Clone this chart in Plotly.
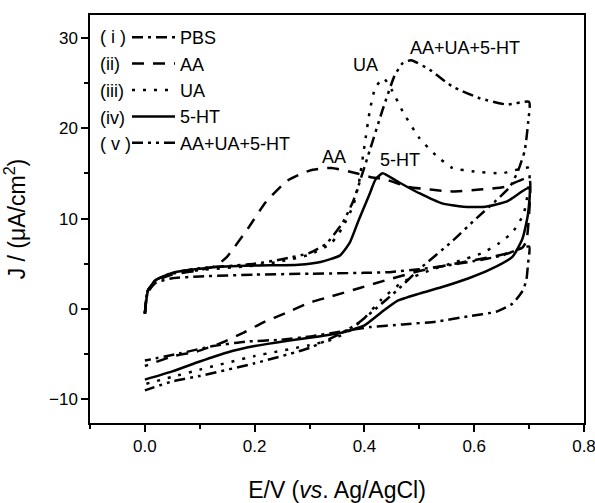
import plotly.graph_objects as go

# ---- data ----
pbs_x = [0.0, 0.005, 0.02, 0.05, 0.1, 0.2, 0.3, 0.4, 0.45, 0.5, 0.55, 0.6, 0.65, 0.7,
         0.698, 0.695, 0.688, 0.67, 0.64, 0.59, 0.53, 0.47, 0.41, 0.355, 0.306, 0.246, 0.185, 0.124, 0.064, 0.0]
pbs_y = [-0.5, 1.8, 2.9, 3.4, 3.6, 3.8, 3.9, 4.0, 4.1, 4.4, 4.8, 5.3, 5.9, 6.9,
         5.0, 3.2, 2.0, 0.6, -0.3, -0.8, -1.4, -1.7, -2.0, -2.5, -3.0, -3.4, -3.6, -4.1, -4.9, -5.7]

aa_x = [0.0, 0.005, 0.02, 0.05, 0.1, 0.13, 0.15, 0.19, 0.22, 0.26, 0.3, 0.34, 0.385, 0.41, 0.44, 0.48, 0.52,
        0.56, 0.61, 0.655, 0.7,
        0.7, 0.695, 0.688, 0.65, 0.6, 0.555, 0.5, 0.44, 0.39, 0.34, 0.3, 0.258, 0.215, 0.18, 0.137, 0.094, 0.052, 0.0]
aa_y = [-0.5, 2.0, 3.1, 3.8, 4.3, 4.8, 5.8, 9.1, 11.8, 14.2, 15.3, 15.6, 15.0, 14.6, 14.3, 13.5, 13.2,
        13.0, 13.2, 13.5, 14.5,
        10.5, 7.5, 6.8, 6.0, 5.4, 4.9, 4.2, 3.2, 2.3, 1.4, 0.7, -0.4, -1.5, -2.6, -3.8, -4.7, -5.2, -6.3]

ua_x = [0.0, 0.005, 0.02, 0.05, 0.1, 0.2, 0.25, 0.3, 0.34, 0.36, 0.38, 0.39, 0.4, 0.41, 0.42, 0.435, 0.45,
        0.47, 0.5, 0.53, 0.56, 0.6, 0.65, 0.7,
        0.698, 0.69, 0.67, 0.646, 0.615, 0.567, 0.52, 0.47, 0.43, 0.4, 0.37, 0.34, 0.3, 0.2, 0.1, 0.05, 0.0]
ua_y = [-0.5, 2.0, 3.2, 3.9, 4.3, 4.8, 5.3, 6.0, 7.3, 9.0, 11.5, 14.0, 18.0, 22.0, 24.5, 25.5, 24.2,
        21.8, 18.9, 17.0, 15.6, 15.2, 15.0, 15.6,
        13.0, 10.5, 8.5, 7.3, 6.2, 5.2, 4.3, 3.0, 1.0, -1.0, -2.5, -3.4, -4.0, -5.2, -6.7, -7.5, -8.3]

ht_x = [0.0, 0.006, 0.02, 0.05, 0.12, 0.2, 0.28, 0.32, 0.355, 0.373, 0.39, 0.41, 0.42, 0.433, 0.46, 0.5,
        0.54, 0.58, 0.62, 0.66, 0.7,
        0.698, 0.688, 0.67, 0.63, 0.59, 0.54, 0.5, 0.46, 0.43, 0.4, 0.36, 0.32, 0.26, 0.2, 0.15, 0.1, 0.05, 0.0]
ht_y = [-0.5, 2.1, 3.2, 4.0, 4.6, 4.8, 4.9, 5.2, 5.9, 7.3, 9.9, 12.8, 14.3, 15.0, 14.1, 12.8,
        11.7, 11.3, 11.3, 11.9, 13.4,
        10.5, 7.8, 5.8, 4.4, 3.4, 2.4, 1.7, 0.9, -0.4, -1.8, -2.6, -3.0, -3.5, -4.1, -4.8, -5.8, -6.9, -7.8]

mix_x = [0.0, 0.005, 0.02, 0.05, 0.1, 0.2, 0.25, 0.3, 0.33, 0.36, 0.38, 0.41, 0.433, 0.455, 0.47, 0.485,
         0.52, 0.56, 0.61, 0.66, 0.7,
         0.698, 0.692, 0.68, 0.665, 0.64, 0.6, 0.56, 0.5, 0.46, 0.42, 0.39, 0.36, 0.3, 0.2, 0.1, 0.05, 0.0]
mix_y = [-0.5, 2.0, 3.2, 4.0, 4.5, 5.0, 5.5, 6.2, 7.2, 9.5, 12.0, 17.6, 22.0, 25.8, 27.2, 27.5,
         26.4, 24.6, 23.3, 22.6, 22.9,
         20.5, 17.5, 15.3, 13.5, 12.0, 9.8, 7.5, 4.4, 2.1, 0.0, -1.5, -2.6, -4.3, -6.0, -7.4, -8.0, -9.0]

series_names = ["PBS", "AA", "UA", "5-HT", "AA+UA+5-HT"]
series_tags = ["( i )", "(ii)", "(iii)", "(iv)", "( v )"]
series_x = [pbs_x, aa_x, ua_x, ht_x, mix_x]
series_y = [pbs_y, aa_y, ua_y, ht_y, mix_y]
series_dash = ["11px,5px,3px,5px", "12px,9px", "3px,8px", "solid", "11px,5px,3px,5px,3px,5px"]

peak_labels = ["AA+UA+5-HT", "UA", "AA", "5-HT"]
peak_x = [0.584, 0.402, 0.345, 0.464]
peak_y = [28.9, 27.0, 16.8, 16.5]

FONT = "Liberation Sans, Arial, sans-serif"
L, R, T, B = 90, 11, 15, 80
PW, PH = 595 - L - R, 503 - T - B

fig = go.Figure()
for i, (name, xs, ys, dash) in enumerate(zip(series_names, series_x, series_y, series_dash)):
    fig.add_trace(go.Scatter(
        x=xs, y=ys, mode="lines", name=name, legendgroup=f"g{i}",
        line=dict(color="black", width=2.5, dash=dash, shape="spline", smoothing=0.5),
    ))

annotations = []
for t, yy in zip(series_tags, [37, 63.5, 90.5, 117.5, 144]):
    annotations.append(dict(text=t, xref="paper", yref="paper",
                            x=(98 - L) / PW, y=1 - (yy - T) / PH,
                            xanchor="left", yanchor="middle", showarrow=False,
                            font=dict(family=FONT, size=18, color="black")))
for t, xx, yy in zip(peak_labels, peak_x, peak_y):
    annotations.append(dict(text=t, x=xx, y=yy, xref="x", yref="y", showarrow=False,
                            font=dict(family=FONT, size=18, color="black")))

fig.update_layout(
    width=595, height=503,
    margin=dict(l=L, r=R, t=T, b=B, autoexpand=False),
    paper_bgcolor="white", plot_bgcolor="white",
    font=dict(family=FONT, size=17, color="black"),
    showlegend=True,
    legend=dict(x=(127 - L) / PW, y=1 - (19 - T) / PH, xanchor="left", yanchor="top",
                bgcolor="rgba(0,0,0,0)", borderwidth=0, itemwidth=43,
                font=dict(family=FONT, size=18, color="black"), tracegroupgap=3,
                traceorder="normal"),
    annotations=annotations,
)
fig.update_xaxes(
    range=[-0.1, 0.8], tickmode="linear", tick0=0, dtick=0.2, tickformat=".1f",
    showline=True, linecolor="black", linewidth=1.5, mirror=True,
    ticks="outside", ticklen=7, tickwidth=1.5, tickcolor="black",
    minor=dict(dtick=0.1, tick0=0, ticks="outside", ticklen=4, tickwidth=1.5, tickcolor="black"),
    showgrid=False, zeroline=False, automargin=False, ticklabeloverflow="allow",
    tickfont=dict(family=FONT, size=17),
    title=dict(text="E/V (<i>vs</i>. Ag/AgCl)", font=dict(family=FONT, size=23), standoff=30),
)
fig.update_yaxes(
    range=[-12.6, 32.5], tickmode="linear", tick0=0, dtick=10,
    showline=True, linecolor="black", linewidth=1.5, mirror=True,
    ticks="outside", ticklen=7, tickwidth=1.5, tickcolor="black",
    minor=dict(dtick=5, tick0=0, ticks="outside", ticklen=4, tickwidth=1.5, tickcolor="black"),
    showgrid=False, zeroline=False, automargin=False, ticklabeloverflow="allow",
    tickfont=dict(family=FONT, size=17),
    title=dict(text="J / (μA/cm<sup>2</sup>)", font=dict(family=FONT, size=23), standoff=18),
)

fig.write_html("out.html", config={"displayModeBar": False},
               post_script="document.body.style.margin='0';document.body.style.overflow='hidden';")
